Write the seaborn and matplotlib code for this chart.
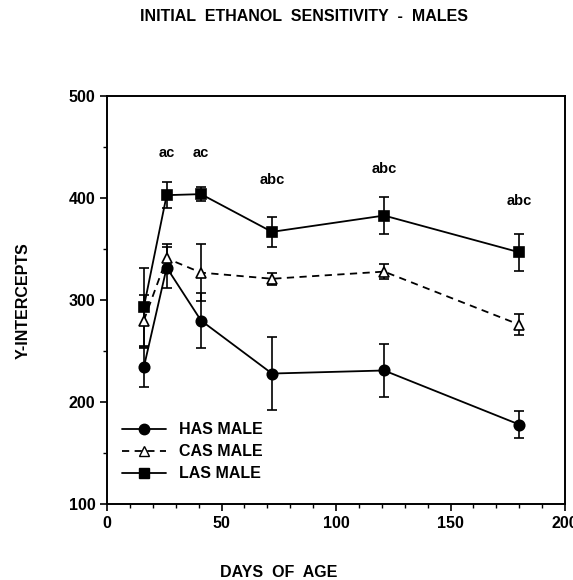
import numpy as np
import pandas as pd
import matplotlib
matplotlib.use('Agg')
import matplotlib.pyplot as plt
from matplotlib.ticker import MultipleLocator
from matplotlib.lines import Line2D
import seaborn as sns
sns.set_style('ticks')
plt.rcParams['font.family'] = ['Liberation Sans', 'DejaVu Sans']
plt.rcParams['font.weight'] = 'bold'
plt.rcParams['text.color'] = 'black'
plt.rcParams['xtick.color'] = 'black'
plt.rcParams['ytick.color'] = 'black'
plt.rcParams['axes.labelcolor'] = 'black'

days = [16, 26, 41, 72, 121, 180]
groups = ['HAS MALE', 'CAS MALE', 'LAS MALE']
has_mean = [234, 332, 280, 228, 231, 178]
has_err = [19, 20, 27, 36, 26, 13]
cas_mean = [280, 341, 327, 321, 328, 276]
cas_err = [25, 14, 28, 6, 7, 10]
las_mean = [293, 403, 404, 367, 383, 347]
las_err = [39, 13, 7, 15, 18, 18]
letters = ['', 'ac', 'ac', 'abc', 'abc', 'abc']
letter_y = [0, 444, 444, 418, 429, 397]

df = pd.DataFrame({
    'day': days * 3,
    'value': has_mean + cas_mean + las_mean,
    'err': has_err + cas_err + las_err,
    'group': [g for g in groups for _ in days],
})

fig = plt.figure(figsize=(5.73, 5.80), dpi=100)
ax = fig.add_axes([0.187, 0.131, 0.799, 0.703])

markers = {'HAS MALE': 'o', 'CAS MALE': '^', 'LAS MALE': 's'}
faces = {'HAS MALE': 'black', 'CAS MALE': 'white', 'LAS MALE': 'black'}
sizes = {'HAS MALE': 7.5, 'CAS MALE': 6.5, 'LAS MALE': 7}
dashes = {'HAS MALE': '', 'CAS MALE': (4, 3), 'LAS MALE': ''}

sns.lineplot(data=df, x='day', y='value', hue='group', style='group',
             hue_order=groups, style_order=groups,
             palette={g: 'black' for g in groups},
             dashes=dashes, markers=markers,
             markersize=7, linewidth=1.3, ax=ax, legend=False, zorder=3)

# marker fills: the triangles are open
for line, g in zip(list(ax.lines)[:3], groups):
    line.set_markerfacecolor(faces[g])
    line.set_markeredgecolor('black')
    line.set_markeredgewidth(1.2)
    line.set_markersize(sizes[g])

for g in groups:
    d = df[df['group'] == g]
    ax.errorbar(d['day'], d['value'], yerr=d['err'], fmt='none', ecolor='black',
                elinewidth=1.2, capsize=3.5, capthick=1.2, zorder=2)

for x, t, y in zip(days, letters, letter_y):
    if t:
        ax.text(x, y, t, ha='center', va='center', fontsize=10.5, fontweight='bold')

handles = [Line2D([], [], color='black', lw=1.3,
                  ls=(0, (4, 3)) if dashes[g] else '-', marker=markers[g],
                  markerfacecolor=faces[g], markeredgecolor='black',
                  markersize=sizes[g])
           for g in groups]
ax.legend(handles, groups, loc='lower left', bbox_to_anchor=(0.0, 0.02), frameon=False,
          prop={'weight': 'bold', 'size': 11.5}, handlelength=2.8, labelspacing=0.45)

ax.set_xlim(0, 200)
ax.set_ylim(100, 500)
ax.xaxis.set_major_locator(MultipleLocator(50))
ax.xaxis.set_minor_locator(MultipleLocator(10))
ax.yaxis.set_major_locator(MultipleLocator(100))
ax.yaxis.set_minor_locator(MultipleLocator(50))
ax.tick_params(which='major', direction='out', length=5, width=1.2, labelsize=11.5)
ax.tick_params(which='minor', direction='out', length=3, width=1)
for lab in ax.get_xticklabels() + ax.get_yticklabels():
    lab.set_fontweight('bold')
for s in ax.spines.values():
    s.set_linewidth(1.4)
    s.set_color('black')

ax.set_xlabel('')
ax.set_ylabel('')
fig.text(0.487, 0.013, 'DAYS  OF  AGE', ha='center', va='center',
         fontsize=11.5, fontweight='bold')
fig.text(0.040, 0.482, 'Y-INTERCEPTS', ha='center', va='center', rotation=90,
         fontsize=11.5, fontweight='bold')
fig.text(0.53, 0.972, 'INITIAL  ETHANOL  SENSITIVITY  -  MALES', ha='center', va='center',
         fontsize=11.5, fontweight='bold')

fig.savefig('out.png', dpi=100)
